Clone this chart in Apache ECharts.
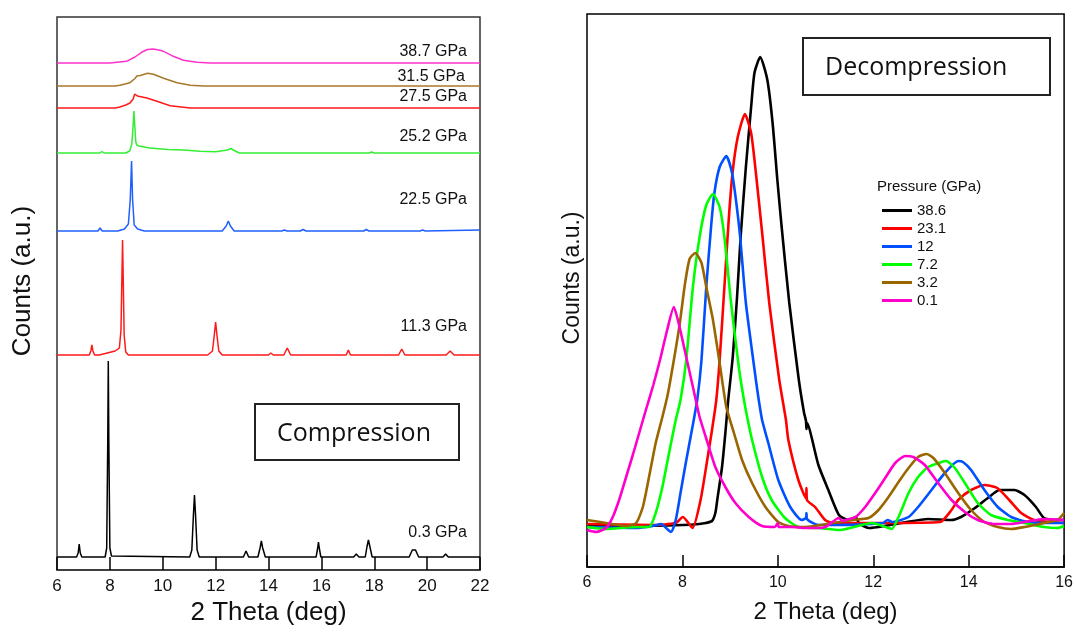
<!DOCTYPE html>
<html>
<head>
<meta charset="utf-8">
<script src="https://cdn.jsdelivr.net/npm/echarts@6/dist/echarts.min.js"></script>
<style>
html,body{margin:0;padding:0;background:#fff;}
#c{width:1076px;height:635px;}
</style>
</head>
<body>
<div id="c"></div>
<script>
// ---------- Compression (left) : [2theta, counts a.u. incl. offset] ----------
const compLabels = ['38.7 GPa','31.5 GPa','27.5 GPa','25.2 GPa','22.5 GPa','11.3 GPa','0.3 GPa'];
const comp387 = [[6,507],[8.0,507],[8.26,507.7],[8.63,508.7],[8.95,513],[9.2,517.7],[9.42,520.5],[9.64,521],[9.85,520],[10.03,518.7],[10.4,513.7],[10.78,509.7],[11.29,507.7],[11.8,507],[14.2,507],[14.26,508],[14.32,507],[16.15,507],[16.2,508],[16.25,507],[22,507]];
const comp315 = [[6,484],[8.2,484],[8.38,484.7],[8.76,487.3],[8.95,491.5],[9.02,494],[9.09,494.7],[9.15,494.5],[9.43,496.7],[9.65,495.7],[10.03,491.7],[10.54,487.3],[11.04,484.7],[11.55,484],[13.9,484],[13.94,485.5],[13.98,484],[15.8,484],[15.85,485],[15.9,484],[22,484]];
const comp275 = [[6,462],[8.2,462],[8.38,463],[8.6,465],[8.76,467],[8.88,471],[8.94,476],[8.98,478],[9.04,474],[9.1,472.5],[9.4,472],[9.78,468.7],[10.28,464.3],[11.04,462],[13.9,462],[13.95,463],[14.0,462],[22,462]];
const comp252 = [[6,417],[7.62,417],[7.7,418.5],[7.78,417],[8.6,417],[8.75,419],[8.83,426],[8.88,445],[8.91,459],[8.94,445],[8.98,428],[9.02,425],[9.1,424],[9.5,422],[10.2,420.5],[10.8,420],[11.4,418.8],[12.0,418.3],[12.45,420],[12.58,421.5],[12.7,419.5],[12.9,417],[13.8,417],[13.87,418],[13.94,417],[15.7,417],[15.76,418],[15.82,417],[17.8,417],[17.9,418],[18,417],[22,417]];
const comp225 = [[6,339],[7.55,339],[7.63,342],[7.71,339],[8.3,339],[8.55,341],[8.7,346],[8.77,370],[8.82,409],[8.86,370],[8.92,345],[9.05,341],[9.3,339],[12.25,339],[12.4,344],[12.48,349],[12.56,344],[12.7,339],[14.5,339],[14.6,340],[14.7,339],[15.2,339],[15.31,340.5],[15.42,339],[17.6,339],[17.7,340.5],[17.8,339],[19.73,339],[19.83,340],[19.93,339],[22,340]];
const comp113 = [[6,215],[7.22,215],[7.28,219],[7.32,225],[7.36,219],[7.42,215],[7.6,215],[7.9,217],[8.2,219],[8.36,222],[8.42,240],[8.46,300],[8.48,330],[8.5,300],[8.54,235],[8.6,218],[8.7,215],[11.7,215],[11.88,219],[11.95,235],[12.0,248],[12.05,235],[12.12,219],[12.25,215],[14.0,215],[14.09,217],[14.18,215],[14.58,215],[14.71,222],[14.84,215],[16.94,215],[17.02,220],[17.1,215],[18.92,215],[19.04,221],[19.16,215],[20.72,215],[20.87,219],[21.02,215],[22,215]];
const comp03 = [[6,13],[6.74,13],[6.8,17],[6.84,26],[6.88,17],[6.94,13],[7.82,13],[7.88,22],[7.92,130],[7.94,209],[7.96,130],[8.0,22],[8.06,14],[11.02,13],[11.1,20],[11.16,55],[11.2,75],[11.24,55],[11.3,20],[11.38,13],[13.05,13],[13.15,19],[13.25,13],[13.6,13],[13.68,22],[13.73,29],[13.78,22],[13.88,13],[15.8,13],[15.86,22],[15.89,28],[15.92,22],[15.98,13],[17.22,13],[17.32,16],[17.42,13],[17.66,13],[17.73,24],[17.78,30],[17.83,24],[17.92,13],[19.32,13],[19.44,20],[19.5,22],[19.56,20],[19.68,13],[20.6,13],[20.7,16],[20.8,13],[22,13]];

// ---------- Decompression (right) ----------
const decompNames = ['38.6','23.1','12','7.2','3.2','0.1'];
const dec386 = [[6,42],[7,41],[8,42],[8.35,43],[8.49,44],[8.62,46],[8.69,54],[8.73,67],[8.83,100],[8.9,134],[8.96,167],[9.055,210],[9.145,270],[9.22,330],[9.33,400],[9.44,460],[9.51,494],[9.63,510],[9.78,487],[9.89,444],[9.99,387],[10.08,340],[10.24,264],[10.44,187],[10.55,154],[10.59,146],[10.6,138],[10.61,144],[10.85,102],[11.05,78],[11.28,52],[11.48,47],[11.63,50],[11.7,44],[11.9,39],[12.59,44],[13.15,48],[13.63,47],[13.84,50],[14.13,59],[14.4,69],[14.65,77],[14.96,77],[15.17,72],[15.41,60],[15.58,49],[15.86,47],[16,47]];
const dec231 = [[6,43],[7.37,42],[7.86,44],[8.01,50],[8.21,39],[8.38,67],[8.52,107],[8.62,137],[8.71,167],[8.78,207],[8.88,280],[8.97,347],[9.05,394],[9.16,430],[9.31,453],[9.44,434],[9.54,394],[9.68,330],[9.82,264],[10.03,187],[10.17,147],[10.22,127],[10.43,87],[10.59,69],[10.6,79],[10.61,67],[10.78,60],[10.99,47],[11.16,44],[11.5,44],[12.2,44],[13.4,45],[13.64,57],[13.78,67],[14.05,77],[14.33,82],[14.6,79],[14.85,67],[15.1,54],[15.37,47],[15.72,45],[16,44]];
const dec12 = [[6,40],[7.03,39],[7.37,41],[7.55,43],[7.76,35],[7.86,47],[7.96,74],[8.07,104],[8.21,140],[8.31,167],[8.4,207],[8.5,280],[8.6,340],[8.67,374],[8.78,400],[8.92,411],[9.04,394],[9.13,364],[9.21,330],[9.33,264],[9.54,187],[9.6,167],[9.67,147],[9.8,124],[10.01,87],[10.26,60],[10.5,47],[10.59,49],[10.6,54],[10.61,48],[10.85,42],[11.2,42],[12.2,44],[12.3,47],[12.4,45],[12.74,50],[12.94,60],[13.22,77],[13.5,94],[13.78,106],[13.88,105],[14.05,97],[14.33,77],[14.61,60],[14.89,50],[15.24,45],[15.72,44],[16,44]];
const dec72 = [[6,40],[6.4,38],[7.03,40],[7.3,40],[7.44,54],[7.58,80],[7.72,114],[7.86,147],[7.96,167],[8.08,207],[8.22,280],[8.36,330],[8.5,362],[8.64,373],[8.78,360],[8.88,330],[9.02,264],[9.19,197],[9.29,167],[9.37,147],[9.46,127],[9.67,90],[9.87,67],[10.15,49],[10.43,40],[10.85,39],[11.3,37],[11.97,44],[12.32,39],[12.39,38],[12.53,50],[12.74,74],[12.94,90],[13.15,100],[13.43,105],[13.53,106],[13.71,99],[13.92,84],[14.19,64],[14.47,52],[14.82,47],[15.17,44],[15.58,40],[15.86,39],[16,41]];
const dec32 = [[6,47],[6.4,44],[6.82,41],[7.03,44],[7.17,60],[7.3,90],[7.44,124],[7.58,150],[7.69,172],[7.81,204],[7.94,242],[8.05,282],[8.15,308],[8.27,314],[8.4,304],[8.5,280],[8.64,247],[8.78,204],[8.92,160],[9.08,134],[9.25,107],[9.46,84],[9.74,60],[10.01,45],[10.22,41],[10.57,40],[11.16,44],[11.56,47],[11.9,49],[12.11,57],[12.32,70],[12.53,85],[12.74,99],[12.94,110],[13.12,113],[13.26,109],[13.5,94],[13.78,74],[14.05,57],[14.33,45],[14.61,40],[14.89,38],[15.17,40],[15.58,44],[15.86,47],[16,54]];
const dec01 = [[6,37],[6.19,35],[6.4,39],[6.54,50],[6.68,68],[6.82,90],[6.96,112],[7.1,135],[7.24,158],[7.39,182],[7.53,207],[7.67,235],[7.82,260],[7.94,240],[8.08,210],[8.22,180],[8.28,167],[8.36,150],[8.49,130],[8.69,100],[8.9,80],[9.11,64],[9.39,50],[9.67,41],[9.94,40],[10.0,44],[10.02,40],[10.29,40],[10.57,39],[10.85,39],[11.0,40],[11.28,49],[11.35,46],[11.42,47],[11.63,50],[11.83,60],[12.04,74],[12.25,89],[12.46,104],[12.67,111],[12.84,110],[13.08,102],[13.36,84],[13.64,67],[13.92,55],[14.19,47],[14.54,43],[14.89,43],[15.17,45],[15.58,48],[16,47]];

const xTicksLeft = [6, 22, 2];
const xTicksRight = [6, 16, 2];

const FONT = 'Liberation Sans, Arial, sans-serif';
const chart = echarts.init(document.getElementById('c'), null, {renderer: 'canvas'});

function lineS(name, data, color, idx, width, smooth, z) {
  return {name: name, type: 'line', data: data, xAxisIndex: idx, yAxisIndex: idx,
    showSymbol: false, symbol: 'none', smooth: smooth, z: z || 2,
    lineStyle: {color: color, width: width}, itemStyle: {color: color}, animation: false};
}

const leftColors = ['#ff33cc', '#a8782a', '#ff1a1a', '#33ee33', '#2060ff', '#ff1a1a', '#000000'];
const leftData = [comp387, comp315, comp275, comp252, comp225, comp113, comp03];
const rightColors = ['#000000', '#ff0000', '#0050ff', '#00ff00', '#996600', '#ff00cc'];
const rightData = [dec386, dec231, dec12, dec72, dec32, dec01];

const series = [];
leftData.forEach((d, i) => series.push(lineS('c' + compLabels[i], d, leftColors[i], 0, 1.5, false)));
rightData.forEach((d, i) => series.push(lineS(decompNames[i], d, rightColors[i], 1, 2.6, 0.2, 3 + i)));

const labelY = [51.7, 76.7, 96.7, 136.7, 200, 327, 532.7];
const graphics = [];
compLabels.forEach((t, i) => graphics.push({type: 'text', x: 467, y: labelY[i], z: 100,
  style: {text: t, fontSize: 16, fontFamily: FONT, fill: '#111', align: 'right', verticalAlign: 'middle',
    backgroundColor: i === 1 ? '#fff' : null, padding: i === 1 ? [0, 2, 0, 3] : 0}}));
graphics.push({type: 'rect', z: 100, shape: {x: 255, y: 404, width: 204, height: 56},
  style: {fill: '#fff', stroke: '#222', lineWidth: 2}});
graphics.push({type: 'text', z: 101, x: 354, y: 434,
  style: {text: 'Compression', fontSize: 25, fontFamily: 'Open Sans, sans-serif', fill: '#111', align: 'center', verticalAlign: 'middle'}});
graphics.push({type: 'rect', z: 100, shape: {x: 803, y: 38, width: 247, height: 57},
  style: {fill: '#fff', stroke: '#222', lineWidth: 2}});
graphics.push({type: 'text', z: 101, x: 825, y: 68,
  style: {text: 'Decompression', fontSize: 25, fontFamily: 'Open Sans, sans-serif', fill: '#111', align: 'left', verticalAlign: 'middle'}});
graphics.push({type: 'text', z: 100, x: 877, y: 187,
  style: {text: 'Pressure (GPa)', fontSize: 15, fontFamily: FONT, fill: '#111', align: 'left', verticalAlign: 'middle'}});
// y-axis titles
graphics.push({type: 'text', z: 100, x: 23, y: 281, rotation: Math.PI / 2,
  style: {text: 'Counts (a.u.)', fontSize: 26, fontFamily: FONT, fill: '#111', align: 'center', verticalAlign: 'middle'}});
graphics.push({type: 'text', z: 100, x: 573, y: 278, rotation: Math.PI / 2,
  style: {text: 'Counts (a.u.)', fontSize: 23, fontFamily: FONT, fill: '#111', align: 'center', verticalAlign: 'middle'}});

function xAx(idx, r, fs, nameFs, gap, lineColor, tickLen) {
  return {gridIndex: idx, type: 'value', min: r[0], max: r[1], interval: r[2],
    name: '2 Theta (deg)', nameLocation: 'middle', nameGap: gap,
    nameTextStyle: {fontSize: nameFs, fontFamily: FONT, color: '#111'},
    axisLine: {show: true, lineStyle: {color: lineColor, width: 1.5}},
    axisTick: {show: true, inside: true, length: tickLen, lineStyle: {color: '#000', width: 1.5}},
    axisLabel: {fontSize: fs, fontFamily: FONT, color: '#111', margin: 8},
    splitLine: {show: false}};
}
function yAx(idx, max) {
  return {gridIndex: idx, type: 'value', min: 0, max: max,
    axisLine: {show: false}, axisTick: {show: false}, axisLabel: {show: false}, splitLine: {show: false}};
}

chart.setOption({
  backgroundColor: '#fff',
  animation: false,
  grid: [
    {left: 57, right: 596, top: 17, bottom: 65, show: true, borderColor: '#333', borderWidth: 1.5, backgroundColor: 'transparent'},
    {left: 587, right: 9, top: 14, bottom: 68, show: true, borderColor: '#000', borderWidth: 1.5, backgroundColor: 'transparent'}
  ],
  xAxis: [xAx(0, xTicksLeft, 17, 26, 30, '#333', 13), xAx(1, xTicksRight, 16, 24, 33, '#000', 12)],
  yAxis: [yAx(0, 553), yAx(1, 553)],
  legend: {data: decompNames, orient: 'vertical', left: 877, top: 198, itemWidth: 30, itemHeight: 3,
    itemGap: 3, icon: 'rect', textStyle: {fontSize: 15, fontFamily: FONT, color: '#111'}},
  series: series,
  graphic: graphics
});
</script>
</body>
</html>
